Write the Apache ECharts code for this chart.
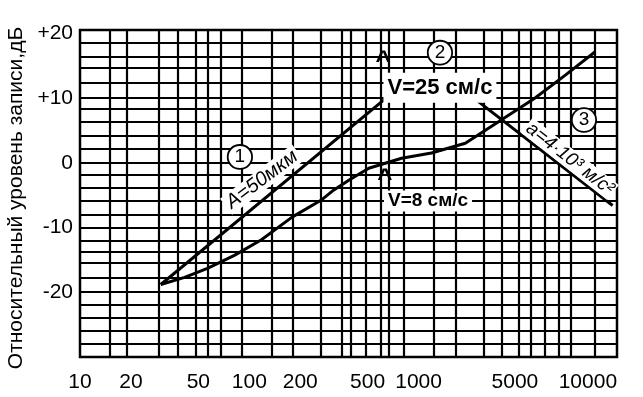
<!DOCTYPE html>
<html><head><meta charset="utf-8">
<script src="https://cdn.jsdelivr.net/npm/echarts@6/dist/echarts.min.js"></script>
<style>html,body{margin:0;padding:0;background:#fff}#c{width:643px;height:397px}</style>
</head><body><div id="c"></div>
<script>
// ---- data ----
const xLabels = [10, 20, 50, 100, 200, 500, 1000, 5000, 10000];
const yLabels = [-20, -10, 0, 10, 20];
// curve 1: constant amplitude A = 50 мкм
const curveA = [[30, -18.8], [650, 10.1]];
// curve 2: constant velocity V = 25 см/с
const curveV25 = [[650, 10.1], [2094, 10.1]];
// curve 3: constant acceleration a = 4·10³ м/с²
const curveAcc = [[2094, 10.1], [14000, -6.6]];
// measured curve at V = 8 см/с
const curveV8 = [[30, -18.8], [41.5, -17.7], [56.6, -16.3], [81.6, -14.3], [118, -11.9], [179, -8.4],
  [265, -5.8], [316, -4.2], [387, -2.7], [508, -0.85], [794, 0.7], [1191, 1.5], [1888, 3.0],
  [2951, 6.3], [4875, 10.0], [7328, 13.5], [11000, 17.1]];
// graph-paper grid lines
const gridX = [15, 19, 29, 38, 48, 57, 68, 90, 136, 180, 265, 350, 395, 490, 600, 670, 820,
  1230, 1650, 2420, 3100, 3900, 4600, 5600, 6700, 7900, 11000];
const gridY = [-28, -26, -24, -22, -20, -17.8, -15.5, -13.8, -12, -10, -8, -5.8, -3.9, -1.9, 0,
  2.2, 4.2, 6.3, 8.4, 10, 12.4, 14.6, 16.3, 18.6];

const FONT = 'Liberation Sans, Arial, sans-serif';
const chart = echarts.init(document.getElementById('c'));
const lineStyle = {color: '#000', width: 3};
function mk(name, data) {
  return {name, type: 'line', data, symbol: 'none', lineStyle, z: 5, animation: false};
}
chart.setOption({
  animation: false,
  backgroundColor: '#fff',
  textStyle: {fontFamily: FONT},
  grid: {left: 80, right: 26, top: 30, bottom: 40, show: true, borderColor: '#000', borderWidth: 2.5, backgroundColor: 'transparent'},
  xAxis: {
    type: 'log', logBase: 10, min: 10, max: 14860,
    axisLine: {show: false},
    axisTick: {show: false, customValues: gridX},
    splitLine: {show: true, lineStyle: {color: '#000', width: 2.2}},
    axisLabel: {
      customValues: xLabels, color: '#000', fontSize: 21, fontFamily: FONT, margin: 15,
      formatter: v => v === 5000 ? '{s|5000}' : String(v),
      rich: {s: {fontSize: 21, fontFamily: FONT, color: '#000', padding: [0, 44, 0, 0]}}
    }
  },
  yAxis: {
    type: 'value', min: -30, max: 20.5,
    axisLine: {show: false},
    axisTick: {show: false, customValues: gridY},
    splitLine: {show: true, lineStyle: {color: '#000', width: 2.2}},
    axisLabel: {
      customValues: yLabels, color: '#000', fontSize: 21, fontFamily: FONT, margin: 7,
      formatter: v => v > 0 ? '+' + v : String(v)
    }
  },
  series: [
    mk('A=50 мкм', curveA),
    mk('V=25 см/с', curveV25),
    mk('a=4·10³ м/с²', curveAcc),
    mk('V=8 см/с', curveV8)
  ]
});

function px(x, y) { return chart.convertToPixel({gridIndex: 0}, [x, y]); }
function txt(x, y, text, opts) {
  const p = px(x, y);
  return Object.assign({
    type: 'text', x: p[0], y: p[1], z: 100,
    style: Object.assign({text, fill: '#000', font: 'bold 20px ' + FONT, align: 'center', verticalAlign: 'middle'}, opts.style || {})
  }, opts.el || {});
}
const circ = {backgroundColor: '#fff', borderColor: '#000', borderWidth: 1.8, borderRadius: 12, padding: [2, 6, 1, 6], font: '19px ' + FONT};
const deg = Math.PI / 180;
chart.setOption({
  graphic: {elements: [
    {type: 'text', x: 16, y: 198, rotation: Math.PI / 2, z: 100,
      style: {text: 'Относительный уровень записи,дБ', fill: '#000', font: '21px ' + FONT, align: 'center', verticalAlign: 'middle'}},
    txt(1337, 11.6, 'V=25 см/с', {style: {backgroundColor: '#fff', padding: [2, 4, 6, 4], font: 'bold 22px ' + FONT}}),
    txt(1137, -5.9, 'V=8 см/с', {style: {backgroundColor: '#fff', padding: [1, 4, 1, 4], font: 'bold 19px ' + FONT}}),
    txt(617, 15.6, '^', {style: {font: 'bold 26px ' + FONT}}),
    txt(632, -2.6, '^', {style: {font: 'bold 26px ' + FONT}}),
    txt(1337, 17.0, '2', {style: circ}),
    txt(88, 0.9, '1', {style: circ}),
    txt(9480, 6.6, '3', {style: circ}),
    txt(119, -2.6, 'A=50мкм', {el: {rotation: 37 * deg}, style: {font: 'italic 20px ' + FONT, backgroundColor: '#fff', padding: [0, 3, 0, 3]}}),
    txt(7830, 0.6, 'a=4·10³ м/с²', {el: {rotation: -38 * deg}, style: {font: 'italic 19px ' + FONT, backgroundColor: '#fff', padding: [0, 2, 0, 2]}})
  ]}
});
</script></body></html>
